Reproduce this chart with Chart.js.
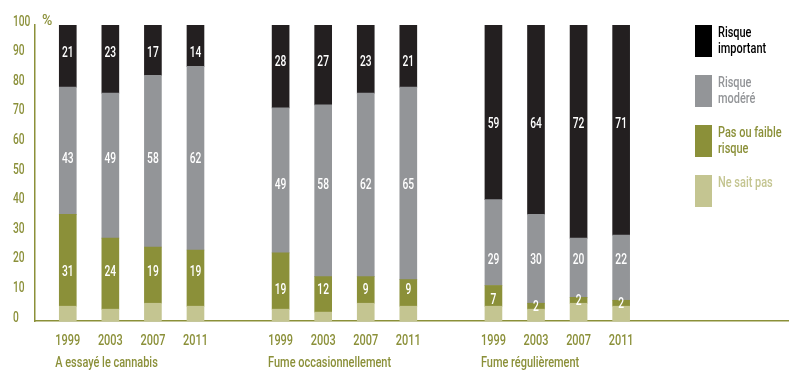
<!DOCTYPE html>
<html>
<head>
<meta charset="utf-8">
<script src="https://cdn.jsdelivr.net/npm/chart.js@4.4.1/dist/chart.umd.min.js"></script>
<style>
  html, body { margin: 0; padding: 0; background: #fff; }
  #wrap { width: 800px; height: 386px; }
</style>
</head>
<body>
<div id="wrap"><canvas id="myChart" width="800" height="386"></canvas></div>
<script>
// data
var groups = ['A essayé le cannabis', 'Fume occasionnellement', 'Fume régulièrement'];
var years = ['1999', '2003', '2007', '2011'];
var important = [21, 23, 17, 14, 28, 27, 23, 21, 59, 64, 72, 71];
var modere = [43, 49, 58, 62, 49, 58, 62, 65, 29, 30, 20, 22];
var faible = [31, 24, 19, 19, 19, 12, 9, 9, 7, 2, 2, 2];
var neSaitPas = [5, 4, 6, 5, 4, 3, 6, 5, 5, 4, 6, 5];
var yTicks = [0, 10, 20, 30, 40, 50, 60, 70, 80, 90, 100];

var olive = '#8b9039';
var family = 'Roboto, sans-serif';
var squeeze = 0.73; // no condensed face installed, so narrow the text by hand

// 4 bars per group, then one empty slot
function slot(i) {
    return Math.floor(i / years.length) * (years.length + 1) + i % years.length;
}
function points(values) {
    return values.map(function (v, i) { return { x: slot(i), y: v }; });
}

function narrowText(ctx, text, x, y, align) {
    ctx.save();
    ctx.translate(x, y);
    ctx.scale(squeeze, 1);
    ctx.textAlign = align;
    ctx.fillText(text, 0, 0);
    ctx.restore();
}

// white numbers inside the segments, lined up per group where they fit
var labelPlugin = {
    id: 'segmentLabels',
    afterDatasetsDraw: function (chart) {
        var ctx = chart.ctx;
        ctx.save();
        ctx.font = '500 14px ' + family;
        ctx.fillStyle = '#fff';
        ctx.textBaseline = 'middle';
        chart.data.datasets.forEach(function (ds, d) {
            if (!ds.showValues) return;
            var els = chart.getDatasetMeta(d).data;
            groups.forEach(function (g, gi) {
                var idx = years.map(function (y, k) { return gi * years.length + k; });
                var mean = idx.reduce(function (s, i) {
                    return s + (els[i].y + els[i].base) / 2;
                }, 0) / idx.length;
                idx.forEach(function (i) {
                    var top = Math.min(els[i].y, els[i].base);
                    var bot = Math.max(els[i].y, els[i].base);
                    var y = bot - top < 16 ? (top + bot) / 2 : Math.min(Math.max(mean, top + 7), bot - 7);
                    narrowText(ctx, String(ds.data[i].y), els[i].x, y + 1, 'center');
                });
            });
        });
        ctx.restore();
    }
};

// axis labels, % sign, group names and the legend on the right
var decoPlugin = {
    id: 'deco',
    afterDraw: function (chart) {
        var ctx = chart.ctx, area = chart.chartArea;
        var xs = chart.scales.x, ys = chart.scales.y;
        ctx.save();
        ctx.textBaseline = 'middle';
        ctx.fillStyle = olive;

        ctx.font = '500 14px ' + family;
        ys.ticks.forEach(function (t) {
            narrowText(ctx, String(t.value), 13, ys.getPixelForValue(t.value) - 3, 'left');
        });
        ctx.textAlign = 'left';
        ctx.fillText('%', area.left + 7, ys.getPixelForValue(100) - 4);

        ctx.font = '500 15px ' + family;
        xs.ticks.forEach(function (t) {
            narrowText(ctx, years[t.value % (years.length + 1)], xs.getPixelForValue(t.value), area.bottom + 20, 'center');
        });
        groups.forEach(function (g, gi) {
            narrowText(ctx, g, xs.getPixelForValue(slot(gi * years.length)) - 12.5, area.bottom + 42, 'left');
        });

        chart.data.datasets.slice().reverse().forEach(function (ds, k) {
            var bx = area.right - 93, by = area.top + k * 50;
            ctx.fillStyle = ds.legendColor || ds.backgroundColor;
            ctx.fillRect(bx, by, 17, 32);
            ctx.fillStyle = ds.textColor;
            ds.legendLines.forEach(function (line, j) {
                narrowText(ctx, line, bx + 23, by + 8 + j * 16, 'left');
            });
        });
        ctx.restore();
    }
};

var ctx = document.getElementById('myChart').getContext('2d');
var myChart = new Chart(ctx, {
    type: 'bar',
    data: {
        datasets: [{
            label: 'Ne sait pas',
            legendLines: ['Ne sait pas'],
            data: points(neSaitPas),
            backgroundColor: '#c4c591',
            textColor: '#c4c591',
            showValues: false
        }, {
            label: 'Pas ou faible risque',
            legendLines: ['Pas ou faible', 'risque'],
            data: points(faible),
            backgroundColor: '#8b9039',
            textColor: '#8b9039',
            showValues: true
        }, {
            label: 'Risque modéré',
            legendLines: ['Risque', 'modéré'],
            data: points(modere),
            backgroundColor: '#939598',
            textColor: '#939598',
            showValues: true
        }, {
            label: 'Risque important',
            legendLines: ['Risque', 'important'],
            data: points(important),
            backgroundColor: '#231f20',
            legendColor: '#000',
            textColor: '#000',
            showValues: true
        }]
    },
    options: {
        responsive: false,
        animation: false,
        barThickness: 17,
        layout: { padding: { left: 13, right: 12, top: 25, bottom: 0 } },
        plugins: {
            legend: { display: false },
            tooltip: { enabled: false }
        },
        scales: {
            x: {
                type: 'linear',
                stacked: true,
                offset: false,
                bounds: 'data',
                min: -0.77,
                max: 16.92,
                grid: { display: false, drawTicks: false },
                border: { color: olive, width: 1.5 },
                afterBuildTicks: function (scale) {
                    scale.ticks = important.map(function (v, i) { return { value: slot(i) }; });
                },
                afterFit: function (scale) { scale.height = 65; },
                ticks: { display: false }
            },
            y: {
                stacked: true,
                min: 0,
                max: 100,
                grid: { display: false, drawTicks: false },
                border: { color: olive, width: 1.5 },
                afterBuildTicks: function (scale) {
                    scale.ticks = yTicks.map(function (v) { return { value: v }; });
                },
                afterFit: function (scale) { scale.width = 22; },
                ticks: { display: false }
            }
        }
    },
    plugins: [labelPlugin, decoPlugin]
});
</script>
</body>
</html>
